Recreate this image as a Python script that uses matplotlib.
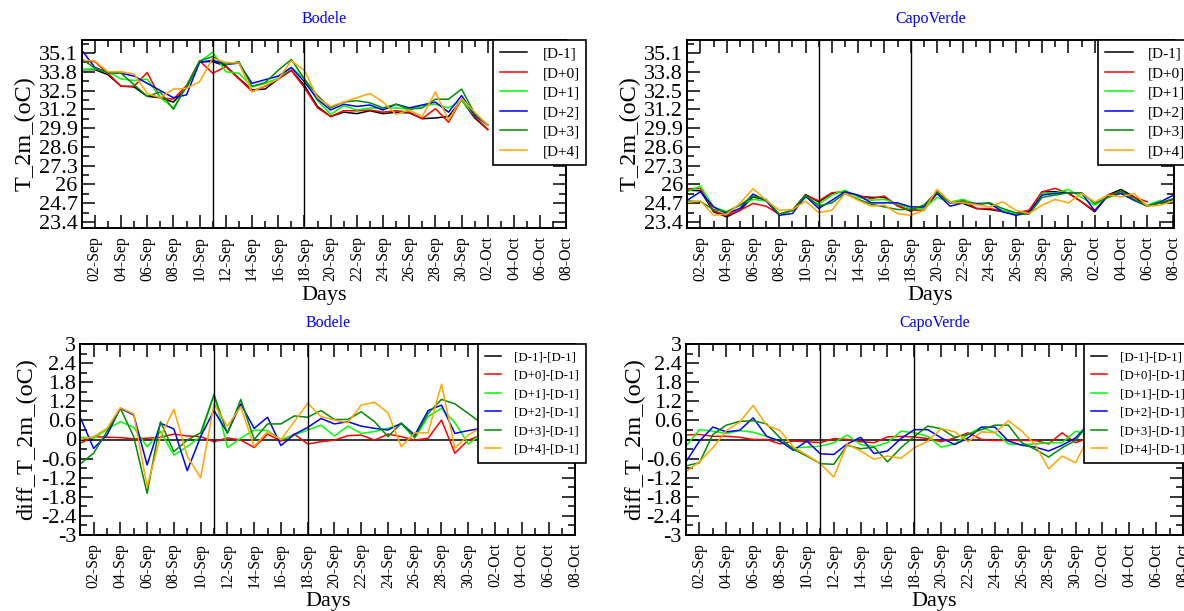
import numpy as np
import pandas as pd
import matplotlib
matplotlib.use("Agg")
import matplotlib.pyplot as plt
import matplotlib.dates as mdates
from matplotlib.ticker import FixedLocator, AutoMinorLocator

plt.rcParams['font.family'] = ['Liberation Serif', 'DejaVu Serif']

# =========================
# DATA
# =========================

start_day = pd.Timestamp("2016-09-01")
day_index = list(range(38))          # 01-Sep ... 08-Oct

series_labels = ["[D-1]", "[D+0]", "[D+1]", "[D+2]", "[D+3]", "[D+4]"]
diff_labels = ["[D-1]-[D-1]", "[D+0]-[D-1]", "[D+1]-[D-1]",
               "[D+2]-[D-1]", "[D+3]-[D-1]", "[D+4]-[D-1]"]
series_colors = ["black", "#ff0000", "#00ff00", "#0000ff", "#008b00", "#ffa500"]

# Bodele T_2m, 01-Sep .. 02-Oct
bodele_dm1 = [33.95, 33.95, 33.6, 32.8, 32.75, 32.1, 32.0, 31.7, 32.7, 34.5, 34.5,
              34.2, 33.35, 32.55, 32.6, 33.3, 33.9, 32.85, 31.4, 30.7, 31.0, 30.9,
              31.1, 30.9, 31.0, 30.95, 30.55, 30.6, 30.7, 31.85, 30.6, 29.8]
bodele_d0 = [34.55, 34.5, 33.7, 32.8, 32.8, 33.75, 32.0, 31.9, 32.85, 34.55, 33.7,
             34.15, 33.3, 32.45, 32.8, 33.3, 33.9, 32.7, 31.3, 30.7, 31.1, 31.1,
             31.15, 31.0, 31.1, 31.0, 30.55, 31.25, 30.3, 31.9, 30.7, 29.8]
bodele_d1 = [33.95, 34.0, 33.8, 33.3, 33.2, 33.3, 32.0, 31.3, 32.8, 34.5, 35.15,
             33.8, 33.7, 32.75, 33.0, 33.35, 34.1, 33.3, 31.8, 30.85, 31.45, 31.15,
             31.3, 31.25, 31.3, 31.2, 31.45, 31.55, 31.3, 31.8, 30.8, 30.1]
bodele_d2 = [35.3, 34.1, 33.75, 33.7, 33.5, 33.0, 32.5, 32.0, 32.2, 34.45, 34.6,
             34.3, 34.4, 33.0, 33.25, 33.5, 34.1, 33.1, 31.9, 31.15, 31.55, 31.4,
             31.5, 31.15, 31.55, 31.3, 31.5, 31.7, 31.0, 32.15, 30.8, 30.1]
bodele_d3 = [34.7, 34.05, 33.75, 33.7, 32.9, 32.1, 32.4, 31.2, 32.8, 34.55, 34.85,
             34.3, 34.5, 32.8, 33.05, 33.9, 34.65, 33.3, 32.15, 31.3, 31.7, 31.8,
             31.65, 31.3, 31.55, 31.2, 31.3, 31.9, 31.9, 32.6, 30.9, 30.1]
bodele_d4 = [34.6, 34.55, 33.8, 33.8, 33.65, 32.3, 32.0, 32.6, 32.65, 33.1, 34.75,
             34.45, 34.4, 32.4, 32.85, 33.3, 34.55, 33.9, 32.0, 31.4, 31.7, 32.0,
             32.3, 31.7, 30.85, 31.15, 30.7, 32.4, 30.45, 31.95, 31.0, 30.1]

# CapoVerde T_2m, 01-Sep .. 08-Oct
capo_dm1 = [25.6, 25.56, 24.1, 23.75, 24.2, 25.14, 24.9, 23.93, 24.2, 25.3, 24.79,
            25.37, 25.49, 25.19, 25.1, 25.1, 24.56, 24.14, 24.49, 25.49, 24.79, 24.68,
            24.33, 24.26, 24.12, 23.98, 24.1, 25.49, 25.49, 25.42, 24.79, 24.1, 25.26,
            25.65, 25.14, 24.49, 24.72, 24.95]
capo_d0 = [25.7, 25.72, 24.17, 23.86, 24.2, 24.68, 24.49, 23.93, 24.2, 25.26, 24.86,
           25.42, 25.49, 25.22, 25.02, 25.19, 24.49, 24.21, 24.21, 25.37, 24.72, 24.91,
           24.33, 24.33, 24.14, 24.03, 24.21, 25.49, 25.72, 25.37, 24.79, 24.17, 25.26,
           25.49, 25.1, 24.8, np.nan, np.nan]
capo_d1 = [25.5, 25.88, 24.44, 24.1, 24.56, 24.96, 24.86, 23.93, 24.17, 25.1, 24.63,
           25.26, 25.6, 25.1, 24.9, 24.96, 24.63, 24.33, 24.33, 25.1, 24.79, 24.96,
           24.63, 24.72, 24.2, 23.98, 23.93, 25.37, 25.4, 25.65, 25.1, 24.56, 25.1,
           25.37, 24.9, 24.56, 24.9, np.nan]
capo_d2 = [24.9, 25.49, 24.44, 23.98, 24.33, 25.33, 24.86, 23.86, 23.98, 25.19, 24.33,
           24.9, 25.49, 25.26, 24.72, 24.72, 24.72, 24.44, 24.44, 25.37, 24.49, 24.72,
           24.68, 24.68, 24.1, 23.86, 24.03, 25.26, 25.37, 25.42, 25.42, 24.17, 25.19,
           25.37, 24.9, 24.49, 24.79, 25.26]
capo_d3 = [24.85, 24.8, 24.26, 24.1, 24.56, 25.19, 24.96, 23.93, 24.2, 25.26, 24.51,
           24.72, 25.37, 24.96, 24.63, 24.44, 24.26, 24.26, 24.56, 25.49, 24.72, 24.79,
           24.6, 24.72, 24.33, 24.03, 23.93, 25.1, 25.26, 25.42, 25.42, 24.68, 25.1,
           25.56, 24.96, 24.49, 24.72, 25.02]
capo_d4 = [24.75, 24.86, 23.86, 23.93, 24.68, 25.7, 24.9, 24.2, 24.26, 24.84, 24.05,
           24.21, 25.37, 24.9, 24.49, 24.56, 23.98, 23.86, 24.21, 25.65, 24.79, 24.72,
           24.6, 24.44, 24.79, 24.21, 23.98, 24.56, 24.96, 24.72, 25.37, 24.79, 25.26,
           25.14, 25.37, 24.49, 24.56, 24.86]

# Bodele differences to [D-1], 01-Sep .. 01-Oct
bodele_diff_dm1 = [0.0] * 31
bodele_diff_d0 = [-0.12, 0.09, 0.07, 0.06, 0.02, 0.04, 0.07, 0.17, 0.11, 0.09, -0.07,
                  0.05, -0.02, -0.25, 0.17, -0.05, 0.17, -0.14, -0.07, -0.02, 0.12,
                  0.14, -0.02, 0.17, 0.09, -0.02, 0.04, 0.61, -0.43, -0.02, 0.14]
bodele_diff_d1 = [0.07, 0.04, 0.32, 0.56, 0.38, -0.23, 0.25, -0.49, -0.22, 0.09, 1.43,
                  -0.25, 0.04, 0.3, 0.28, 0.0, 0.14, 0.3, 0.45, 0.11, 0.42, 0.19,
                  0.25, 0.35, 0.49, 0.04, 0.72, 0.98, 0.53, -0.14, 0.17]
bodele_diff_d2 = [0.7, -0.28, 0.14, 0.98, 0.77, -0.8, 0.51, 0.33, -0.98, 0.09, 0.91,
                  0.21, 1.12, 0.35, 0.7, -0.19, 0.16, 0.38, 0.66, 0.49, 0.56, 0.42,
                  0.35, 0.3, 0.51, 0.14, 0.91, 1.08, 0.19, 0.28, 0.35]
bodele_diff_d3 = [-0.77, -0.43, 0.25, 0.98, 0.09, -1.69, 0.56, -0.38, -0.02, 0.21, 1.4,
                  0.19, 1.26, 0.0, 0.49, 0.49, 0.74, 0.7, 0.91, 0.63, 0.63, 0.87,
                  0.56, 0.09, 0.51, 0.07, 0.82, 1.26, 1.12, 0.82, 0.51]
bodele_diff_d4 = [0.0, 0.09, 0.35, 1.0, 0.8, -1.48, 0.09, 0.95, -0.52, -1.2, 1.12,
                  0.42, 1.03, -0.22, 0.25, 0.0, 0.56, 1.14, 0.72, 0.61, 0.53, 1.08,
                  1.17, 0.84, -0.23, 0.21, 0.21, 1.74, -0.28, 0.14, 0.38]

# CapoVerde differences to [D-1], 01-Sep .. 01-Oct
capo_diff_dm1 = [0.0] * 31
capo_diff_d0 = [0.14, 0.16, 0.1, 0.1, 0.07, 0.0, 0.0, -0.14, -0.05, -0.07, -0.1,
                0.03, 0.0, -0.07, -0.1, 0.08, 0.1, 0.08, 0.03, -0.07, 0.05, 0.21,
                0.0, -0.03, -0.03, -0.03, -0.03, -0.14, 0.21, -0.1, 0.05]
capo_diff_d1 = [-0.21, 0.31, 0.26, 0.19, 0.28, 0.23, 0.1, -0.07, -0.26, -0.24, -0.21,
                -0.1, 0.14, -0.16, -0.22, -0.1, 0.26, 0.21, 0.1, -0.24, -0.14, 0.16,
                0.39, 0.21, -0.14, -0.16, -0.14, -0.1, -0.1, 0.26, 0.16]
capo_diff_d2 = [-0.7, -0.05, 0.39, 0.24, 0.29, 0.68, 0.1, -0.05, -0.34, -0.05, -0.45,
                -0.47, -0.14, 0.07, -0.44, -0.36, 0.03, 0.31, 0.31, 0.05, -0.16, 0.05,
                0.39, 0.39, -0.05, -0.18, -0.24, -0.36, -0.18, 0.05, 0.5]
capo_diff_d3 = [-0.83, -0.73, 0.16, 0.45, 0.57, 0.59, 0.49, 0.05, -0.31, -0.52, -0.76,
                -0.78, -0.18, -0.29, -0.24, -0.7, -0.26, 0.1, 0.42, 0.34, 0.07, 0.16,
                0.31, 0.45, 0.45, -0.1, -0.31, -0.55, -0.26, -0.03, 0.52]
capo_diff_d4 = [-1.01, -0.7, -0.26, 0.28, 0.55, 1.07, 0.45, 0.28, -0.24, -0.49, -0.76,
                -1.18, -0.14, -0.36, -0.62, -0.52, -0.59, -0.26, -0.05, 0.34, 0.24,
                -0.07, 0.24, 0.21, 0.59, 0.26, -0.16, -0.92, -0.52, -0.73, 0.1]

# dates of the two vertical marker lines
marker_days = [10, 17]   # offsets -> 11-Sep and 18-Sep

t_ticks = [23.4, 24.7, 26, 27.3, 28.6, 29.9, 31.2, 32.5, 33.8, 35.1]
t_ticklabels = ["23.4", "24.7", "26", "27.3", "28.6", "29.9", "31.2", "32.5", "33.8", "35.1"]
d_ticks = [-3, -2.4, -1.8, -1.2, -0.6, 0, 0.6, 1.2, 1.8, 2.4, 3]
d_ticklabels = ["-3", "-2.4", "-1.8", "-1.2", "-0.6", "0", "0.6", "1.2", "1.8", "2.4", "3"]


# =========================
# FIGURE
# =========================

W, H = 1184, 611
fig = plt.figure(figsize=(W / 100, H / 100), dpi=100)


def px_axes(x0, x1, y0, y1):
    return fig.add_axes([x0 / W, 1 - y1 / H, (x1 - x0) / W, (y1 - y0) / H])


def dates_for(n):
    return [start_day + pd.Timedelta(days=day_index[i]) for i in range(n)]


def draw_panel(ax, series, labels, title, ylabel, yticks, yticklabels, ylim,
               leg_x, leg_fs, leg_hl, leg_sp, leg_bp, ylabel_x, xlabel_y):
    lines = []
    for values, color, label in zip(series, series_colors, labels):
        line, = ax.plot(dates_for(len(values)), values, color=color,
                        linewidth=1.1, label=label)
        lines.append(line)
    for d in marker_days:
        ax.axvline(start_day + pd.Timedelta(days=d), color="black", linewidth=1.0)

    ax.set_xlim(start_day, start_day + pd.Timedelta(days=day_index[-1]))
    ax.set_ylim(*ylim)

    ax.xaxis.set_major_locator(mdates.DayLocator(bymonthday=range(2, 32, 2)))
    ax.xaxis.set_minor_locator(mdates.DayLocator())
    ax.xaxis.set_major_formatter(mdates.DateFormatter("%d-%b"))
    ax.yaxis.set_major_locator(FixedLocator(yticks))
    ax.set_yticklabels(yticklabels)
    ax.yaxis.set_minor_locator(AutoMinorLocator(2))

    ax.tick_params(which="both", direction="in", top=True, right=True, width=1.1)
    ax.tick_params(which="major", length=9.5)
    ax.tick_params(which="minor", length=5)
    ax.tick_params(axis="x", which="major", labelsize=11.3, labelrotation=90, pad=6)
    ax.tick_params(axis="y", which="major", labelsize=16, pad=3)
    for s in ax.spines.values():
        s.set_linewidth(1.4)

    ax.set_xlabel("Days", fontsize=16)
    ax.xaxis.set_label_coords(0.5, xlabel_y)
    ax.set_ylabel(ylabel, fontsize=17.5)
    ax.yaxis.set_label_coords(ylabel_x, 0.5)
    ax.text(0.5, 1.11, title, transform=ax.transAxes, ha="center", va="center",
            color="#0000ff", fontsize=11.5)

    leg = ax.legend(handles=lines, loc="upper left", bbox_to_anchor=(leg_x, 1.0),
                    borderaxespad=0, fontsize=leg_fs, handlelength=leg_hl,
                    handletextpad=1.0, labelspacing=leg_sp, borderpad=leg_bp,
                    fancybox=False, framealpha=1, edgecolor="black")
    leg.get_frame().set_linewidth(1.2)
    leg.set_clip_on(False)


ax_tl = px_axes(81.7, 566.4, 40, 227.7)
ax_tr = px_axes(687.3, 1173.5, 40, 227.7)
ax_bl = px_axes(80.2, 575.3, 344, 535)
ax_br = px_axes(686, 1183, 344, 535)

draw_panel(ax_tl, [bodele_dm1, bodele_d0, bodele_d1, bodele_d2, bodele_d3, bodele_d4],
           series_labels, "Bodele", "T_2m_(oC)", t_ticks, t_ticklabels, (23, 36),
           0.848, 11, 1.8, 0.38, 0.45, -0.096, -0.31)
draw_panel(ax_tr, [capo_dm1, capo_d0, capo_d1, capo_d2, capo_d3, capo_d4],
           series_labels, "CapoVerde", "T_2m_(oC)", t_ticks, t_ticklabels, (23, 36),
           0.845, 11, 1.8, 0.38, 0.45, -0.097, -0.31)
draw_panel(ax_bl, [bodele_diff_dm1, bodele_diff_d0, bodele_diff_d1, bodele_diff_d2,
                   bodele_diff_d3, bodele_diff_d4],
           diff_labels, "Bodele", "diff_T_2m_(oC)", d_ticks, d_ticklabels, (-3, 3),
           0.803, 9.3, 1.25, 0.5, 0.57, -0.087, -0.30)
draw_panel(ax_br, [capo_diff_dm1, capo_diff_d0, capo_diff_d1, capo_diff_d2,
                   capo_diff_d3, capo_diff_d4],
           diff_labels, "CapoVerde", "diff_T_2m_(oC)", d_ticks, d_ticklabels, (-3, 3),
           0.80, 9.3, 1.25, 0.5, 0.57, -0.083, -0.30)

fig.savefig("out.png", dpi=100)
